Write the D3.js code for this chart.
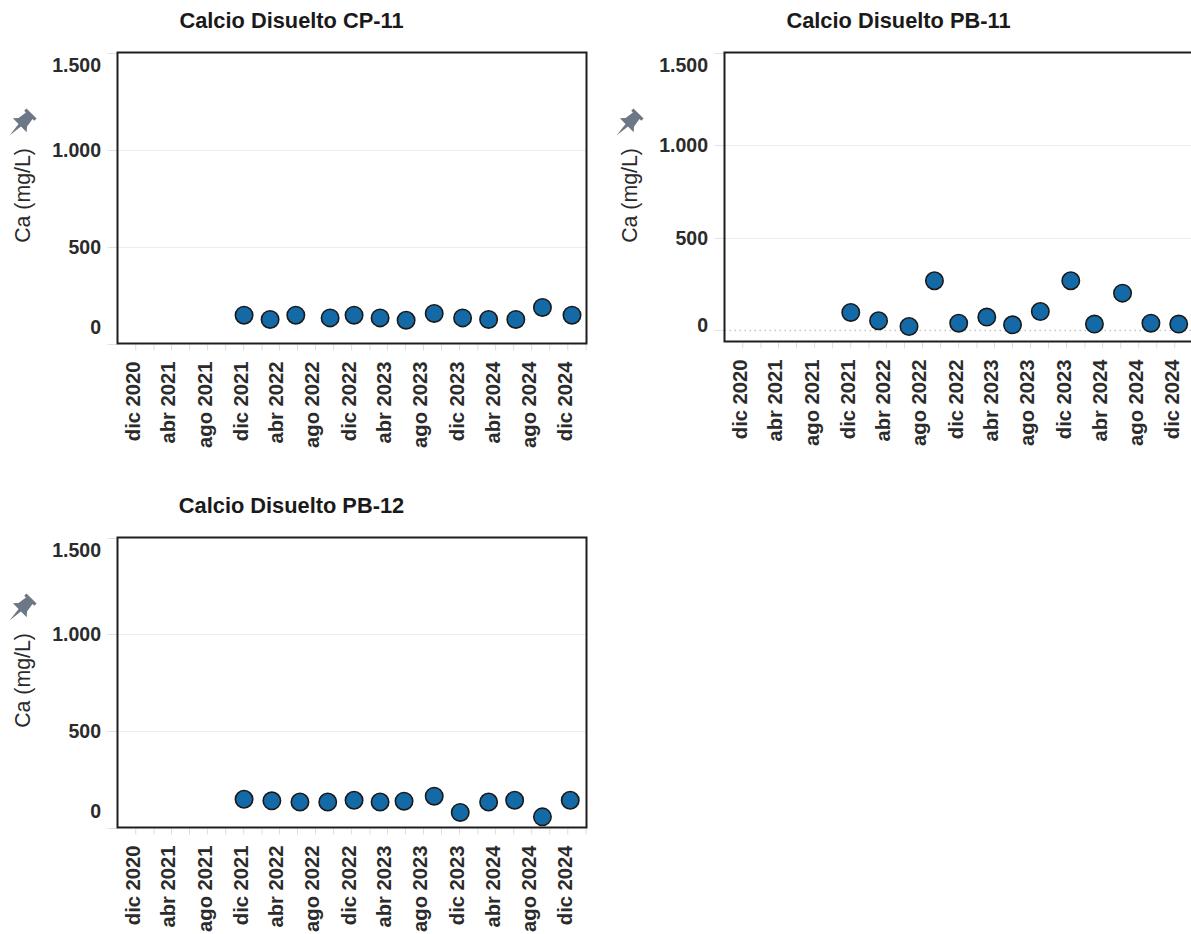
<!DOCTYPE html>
<html lang="es">
<head>
<meta charset="utf-8">
<title>Calcio Disuelto</title>
<script src="https://cdn.jsdelivr.net/npm/d3@7"></script>
<style>
  html, body { margin: 0; padding: 0; background: #ffffff; }
  svg { display: block; font-family: "Liberation Sans", Arial, sans-serif; }
</style>
</head>
<body>
<svg id="chart" width="1191" height="934"></svg>
<script>
// ---- Data -------------------------------------------------------------
const panelTitles = ["Calcio Disuelto CP-11", "Calcio Disuelto PB-11", "Calcio Disuelto PB-12"];
const yAxisTitle = "Ca (mg/L)";

const cp11Dates = ["2021-12-04", "2022-03-02", "2022-05-28", "2022-09-21", "2022-12-11", "2023-03-09",
                   "2023-06-05", "2023-09-08", "2023-12-13", "2024-03-10", "2024-06-10", "2024-09-08", "2024-12-17"];
const cp11Ca    = [146, 124, 146, 132, 146, 132, 120, 155, 132, 124, 124, 186, 146];

const pb11Dates = ["2021-12-03", "2022-03-07", "2022-06-18", "2022-09-12", "2022-12-03", "2023-03-08",
                   "2023-06-03", "2023-09-05", "2023-12-17", "2024-03-06", "2024-06-09", "2024-09-13", "2024-12-16"];
const pb11Ca    = [97, 52, 21, 268, 39, 72, 30, 102, 268, 34, 201, 39, 34];

const pb12Dates = ["2021-12-04", "2022-03-08", "2022-06-11", "2022-09-13", "2022-12-11", "2023-03-09",
                   "2023-05-29", "2023-09-08", "2023-12-05", "2024-03-10", "2024-06-06", "2024-09-08", "2024-12-11"];
const pb12Ca    = [146, 138, 132, 132, 141, 132, 136, 162, 78, 132, 141, 55, 141];

// labelled x ticks (every four months) and the shared time window
const xTickDates = ["2020-12-01", "2021-04-01", "2021-08-01", "2021-12-01", "2022-04-01", "2022-08-01",
                    "2022-12-01", "2023-04-01", "2023-08-01", "2023-12-01", "2024-04-01", "2024-08-01", "2024-12-01"];
const xDomain = ["2020-10-02", "2025-02-04"];
const yTicks = [0, 500, 1000, 1500];
const yDomains = [[0, 1500], [-60, 1500], [0, 1500]];

// ---- Locale ------------------------------------------------------------
const esTime = d3.timeFormatLocale({
  dateTime: "%A, %e de %B de %Y, %X", date: "%d/%m/%Y", time: "%H:%M:%S", periods: ["AM", "PM"],
  days: ["domingo", "lunes", "martes", "miércoles", "jueves", "viernes", "sábado"],
  shortDays: ["dom", "lun", "mar", "mié", "jue", "vie", "sáb"],
  months: ["enero", "febrero", "marzo", "abril", "mayo", "junio", "julio", "agosto", "septiembre", "octubre", "noviembre", "diciembre"],
  shortMonths: ["ene", "feb", "mar", "abr", "may", "jun", "jul", "ago", "sep", "oct", "nov", "dic"]
});
const esNum = d3.formatLocale({ decimal: ",", thousands: ".", grouping: [3], currency: ["", " €"] });
const fmtMonth = esTime.format("%b %Y");
const fmtNum = esNum.format(",");
const parse = d3.utcParse("%Y-%m-%d");
const toLocal = s => { const d = parse(s); return new Date(d.getUTCFullYear(), d.getUTCMonth(), d.getUTCDate()); };

// ---- Layout ------------------------------------------------------------
const frameW = 469;
const panels = [
  { title: panelTitles[0], dates: cp11Dates, values: cp11Ca, yDomain: yDomains[0], left: 117.5, top: 52.5, h: 291 },
  { title: panelTitles[1], dates: pb11Dates, values: pb11Ca, yDomain: yDomains[1], left: 724.5, top: 52.5, h: 289 },
  { title: panelTitles[2], dates: pb12Dates, values: pb12Ca, yDomain: yDomains[2], left: 117.5, top: 537.5, h: 290 }
];

const svg = d3.select("#chart");

// thumbtack glyph, drawn upright then tilted
const pinPath = "M-5.5,-12 H5.5 V-9.5 H3.6 L4.6,-2.5 L7.5,0.8 H-7.5 L-4.6,-2.5 L-3.6,-9.5 H-5.5 Z M-1.3,0.8 H1.3 L0,12 Z";

panels.forEach(p => {
  const g = svg.append("g");
  const L = p.left, T = p.top, R = p.left + frameW, B = p.top + p.h;

  const x = d3.scaleTime().domain(xDomain.map(toLocal)).range([L, R]);
  const y = d3.scaleLinear().domain(p.yDomain).range([B, T]);

  // title
  g.append("text")
    .attr("x", L + 174).attr("y", T - 24.5)
    .attr("text-anchor", "middle")
    .attr("font-size", 21.8).attr("font-weight", "bold").attr("fill", "#1a1a1a")
    .text(p.title);

  // horizontal gridlines with short stubs left of the frame
  yTicks.forEach(v => {
    const yy = Math.round(y(v)) + 0.5;
    if (yy < T - 1 || yy > B + 3) return;
    g.append("line").attr("x1", L - 10).attr("x2", L).attr("y1", yy).attr("y2", yy)
      .attr("stroke", "#e2e2e2").attr("stroke-width", 1);
    if (yy > T + 2 && yy < B - 2) {
      const ln = g.append("line").attr("x1", L).attr("x2", L + frameW).attr("y1", yy).attr("y2", yy);
      if (v === 0) ln.attr("stroke", "#c4c4c4").attr("stroke-width", 1.3).attr("stroke-dasharray", "1.5,3.5");
      else ln.attr("stroke", "#ececec").attr("stroke-width", 1);
    }
  });

  // y tick labels, kept inside the frame height
  g.append("g").selectAll("text").data(yTicks).join("text")
    .attr("x", L - 16.5)
    .attr("y", v => Math.max(T + 12.5, Math.min(B - 16.5, y(v))))
    .attr("dy", "0.36em")
    .attr("text-anchor", "end")
    .attr("font-size", 19.5).attr("font-weight", "bold").attr("fill", "#2b2b2b")
    .text(v => fmtNum(v));

  // y axis title and pin
  g.append("text")
    .attr("transform", `translate(${L - 95},${T + 143}) rotate(-90)`)
    .attr("dy", "0.33em")
    .attr("text-anchor", "middle")
    .attr("font-size", 21.3).attr("fill", "#2a2a2a")
    .text(yAxisTitle);
  g.append("path")
    .attr("d", pinPath)
    .attr("transform", `translate(${L - 97},${T + 72}) rotate(45) scale(1.3)`)
    .attr("fill", "#6d7886");

  // x axis: minor ticks every two months, labels every four
  const minor = d3.timeMonth.range(x.domain()[0], x.domain()[1]).filter(d => d.getMonth() % 2 === 1);
  const xAxis = d3.axisBottom(x).tickValues(minor).tickSize(6).tickFormat("");
  const ax = g.append("g").attr("transform", `translate(0,${B + 1})`).call(xAxis);
  ax.select(".domain").remove();
  ax.selectAll(".tick line").attr("stroke", "#dddddd");

  g.append("g").selectAll("text").data(xTickDates.map(toLocal)).join("text")
    .attr("transform", d => `translate(${x(d)},${B + 18}) rotate(-90)`)
    .attr("dy", "0.22em")
    .attr("text-anchor", "end")
    .attr("font-size", 20.2).attr("font-weight", "bold").attr("fill", "#2b2b2b")
    .text(d => fmtMonth(d));

  // frame
  g.append("rect")
    .attr("x", L).attr("y", T).attr("width", frameW).attr("height", p.h)
    .attr("fill", "none").attr("stroke", "#1e1e1e").attr("stroke-width", 2);

  // samples
  g.append("g").selectAll("circle").data(p.dates.map((d, i) => ({ date: toLocal(d), value: p.values[i] })))
    .join("circle")
    .attr("cx", d => x(d.date))
    .attr("cy", d => y(d.value))
    .attr("r", 8.7)
    .attr("fill", "#136aa6")
    .attr("stroke", "#1a1a1a")
    .attr("stroke-width", 1.6);
});
</script>
</body>
</html>
